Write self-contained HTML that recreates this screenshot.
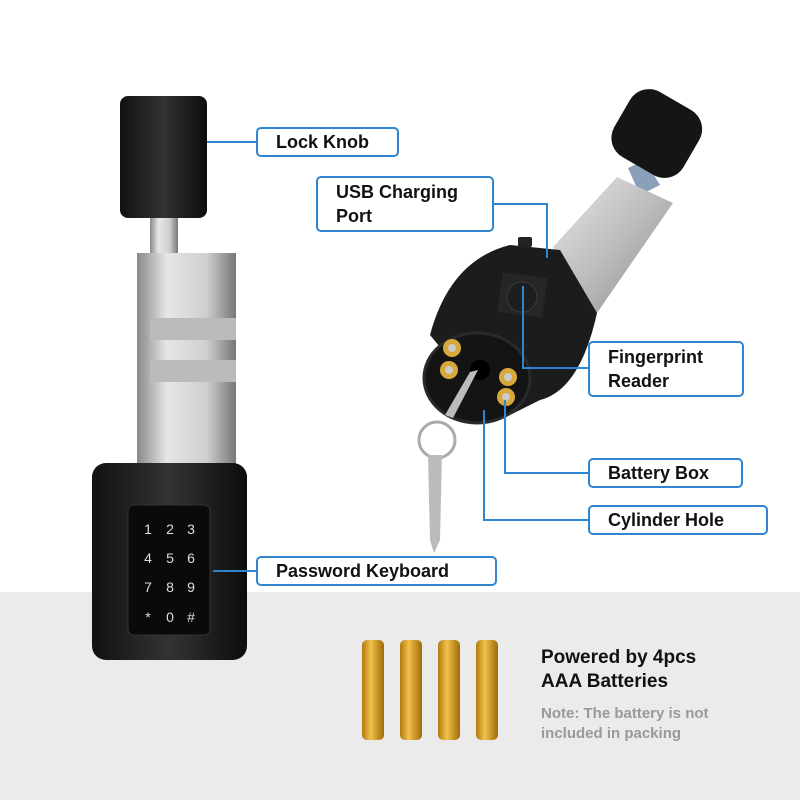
<!DOCTYPE html>
<html><head><style>
body{margin:0;width:800px;height:800px;position:relative;background:#fff;font-family:"Liberation Sans",sans-serif;overflow:hidden}
.bg{position:absolute;left:0;top:592px;width:800px;height:208px;background:#ebebeb}
.lb{position:absolute;border:2px solid #2f86d0;border-radius:5px;background:#fff;font-weight:bold;font-size:18px;color:#111;box-sizing:border-box;padding-left:18px;line-height:24px}
svg{position:absolute;left:0;top:0}
.t{position:absolute;left:541px;font-weight:bold;color:#111;font-size:19px;line-height:24px}
.n{position:absolute;left:541px;font-weight:bold;color:#999;font-size:15px;line-height:20px}
</style></head><body>
<div class="bg"></div>
<svg width="800" height="800">
<defs>
<linearGradient id="sv" x1="0" x2="1"><stop offset="0" stop-color="#888"/><stop offset=".3" stop-color="#e6e6e6"/><stop offset=".7" stop-color="#cfcfcf"/><stop offset="1" stop-color="#777"/></linearGradient>
<linearGradient id="sv2" x1="0" y1="0" x2="1" y2="1"><stop offset="0" stop-color="#e8e8e8"/><stop offset=".5" stop-color="#bdbdbd"/><stop offset="1" stop-color="#8a8a8a"/></linearGradient>
<linearGradient id="bk" x1="0" x2="1"><stop offset="0" stop-color="#111"/><stop offset=".5" stop-color="#333"/><stop offset="1" stop-color="#0c0c0c"/></linearGradient>
<linearGradient id="bat" x1="0" x2="1"><stop offset="0" stop-color="#b07a10"/><stop offset=".4" stop-color="#f2c24a"/><stop offset="1" stop-color="#a06a08"/></linearGradient>
</defs>
<!-- left device -->
<rect x="120" y="96" width="87" height="122" rx="8" fill="url(#bk)"/>
<rect x="150" y="218" width="28" height="40" fill="url(#sv)"/>
<rect x="137" y="253" width="99" height="217" fill="url(#sv)"/>
<rect x="150" y="318" width="86" height="22" fill="#bbb"/>
<rect x="150" y="360" width="86" height="22" fill="#bbb"/>
<rect x="92" y="463" width="155" height="197" rx="14" fill="url(#bk)"/>
<rect x="128" y="505" width="82" height="130" rx="6" fill="#0a0a0a" stroke="#333"/>
<g fill="#ddd" font-size="14" font-family="Liberation Sans" text-anchor="middle">
<text x="148" y="534">1</text><text x="170" y="534">2</text><text x="191" y="534">3</text>
<text x="148" y="563">4</text><text x="170" y="563">5</text><text x="191" y="563">6</text>
<text x="148" y="592">7</text><text x="170" y="592">8</text><text x="191" y="592">9</text>
<text x="148" y="622">*</text><text x="170" y="622">0</text><text x="191" y="622">#</text></g>
<!-- right device -->
<path d="M628 168 L645 160 L660 185 L640 195 Z" fill="#8aa0b8"/>
<path d="M553 247 L617 177 L673 203 L597 313 Z" fill="url(#sv2)"/>
<rect x="613" y="95" width="80" height="75" rx="22" fill="#151515" transform="rotate(30 653 140)"/>
<path d="M430 335 Q450 260 510 245 L560 250 L597 313 Q580 390 540 400 L500 420 Z" fill="#1c1c1c"/>
<ellipse cx="477" cy="378" rx="53" ry="45" fill="#141414" stroke="#2a2a2a" stroke-width="3"/>
<rect x="500" y="275" width="45" height="40" fill="#262626" transform="rotate(8 522 295)"/>
<circle cx="522" cy="297" r="15" fill="#1e1e1e" stroke="#3a3a3a"/>
<rect x="518" y="237" width="14" height="10" rx="2" fill="#222"/>
<circle cx="452" cy="348" r="9" fill="#d9a83a"/><circle cx="449" cy="370" r="9" fill="#d9a83a"/>
<circle cx="508" cy="377" r="9" fill="#d9a83a"/><circle cx="506" cy="397" r="9" fill="#d9a83a"/>
<circle cx="452" cy="348" r="4" fill="#ccc"/><circle cx="449" cy="370" r="4" fill="#ccc"/>
<circle cx="508" cy="377" r="4" fill="#ccc"/><circle cx="506" cy="397" r="4" fill="#ccc"/>
<circle cx="480" cy="370" r="10" fill="#000"/>
<path d="M478 370 L470 372 L445 415 L453 418 Z" fill="#bbb"/>
<circle cx="437" cy="440" r="18" fill="none" stroke="#aaa" stroke-width="3"/>
<path d="M428 455 L442 455 L440 540 L434 553 L430 540 Z" fill="#bbb"/>
<!-- batteries -->
<rect x="362" y="640" width="22" height="100" rx="5" fill="url(#bat)"/>
<rect x="400" y="640" width="22" height="100" rx="5" fill="url(#bat)"/>
<rect x="438" y="640" width="22" height="100" rx="5" fill="url(#bat)"/>
<rect x="476" y="640" width="22" height="100" rx="5" fill="url(#bat)"/>
<!-- leader lines -->
<g stroke="#2f86d0" stroke-width="2" fill="none">
<path d="M207 142H256"/>
<path d="M494 204H547V258"/>
<path d="M523 286V368H588"/>
<path d="M505 400V473H588"/>
<path d="M484 410V520H588"/>
<path d="M213 571H256"/>
</g>
</svg>
<div class="lb" style="left:256px;top:127px;width:143px;height:30px;line-height:26px">Lock Knob</div>
<div class="lb" style="left:316px;top:176px;width:178px;height:56px;padding-top:2px">USB Charging<br>Port</div>
<div class="lb" style="left:588px;top:341px;width:156px;height:56px;padding-top:2px">Fingerprint<br>Reader</div>
<div class="lb" style="left:588px;top:458px;width:155px;height:30px;line-height:26px">Battery Box</div>
<div class="lb" style="left:588px;top:505px;width:180px;height:30px;line-height:26px">Cylinder Hole</div>
<div class="lb" style="left:256px;top:556px;width:241px;height:30px;line-height:26px">Password Keyboard</div>
<div class="t" style="top:646px">Powered by 4pcs<br>AAA Batteries</div>
<div class="n" style="top:704px">Note: The battery is not<br>included in packing</div>
</body></html>
